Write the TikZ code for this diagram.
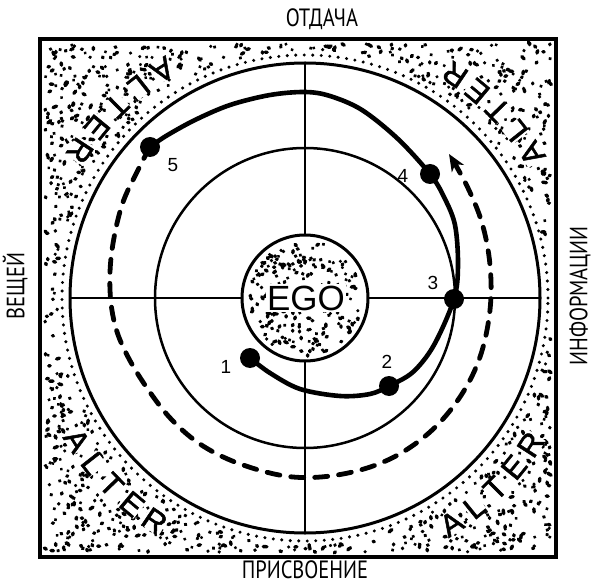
\documentclass[tikz,border=0pt]{standalone}
\usepackage{fontspec}
\setmainfont{Liberation Sans}
\newfontfamily\labfont[FakeStretch=0.82]{PT Sans}
\newfontfamily\alterfont[FakeBold=1.6]{Liberation Sans}
\usetikzlibrary{arrows.meta}
\tikzset{
  stip/.style={line width=3.4pt, line cap=round},
  ring/.style={line width=3pt},
  axis/.style={line width=1.9pt},
  pathsolid/.style={line width=4.6pt, line cap=round, line join=round},
  pathdash/.style={line width=4.8pt, line cap=round, dash pattern=on 13pt off 11pt},
  bigdot/.style={circle, fill=black, minimum size=20pt, inner sep=0pt},
  numlbl/.style={font=\fontsize{19}{19}\selectfont},
  alterletter/.style={font=\alterfont\fontsize{31}{31}\selectfont, fill=white, inner sep=0pt},
  outlbl/.style={font=\labfont\fontsize{25}{25}\selectfont, inner sep=0pt}
}
\begin{document}
\begin{tikzpicture}[x=1pt,y=-1pt]
\useasboundingbox (0,0) rectangle (594,585);
\coordinate (c) at (305,298);
% frame
\fill[white] (40,39) rectangle (556,557);
% stipple band
\pgfmathsetseed{7}
\foreach \i in {1,...,4200}{
  \pgfmathsetmacro\rx{45+506*rnd}
  \pgfmathsetmacro\ry{44+508*rnd}
  \pgfmathsetmacro\dd{100*veclen((\rx-305)/100,(\ry-298)/100)}
  \pgfmathsetmacro\ang{360*rnd}
  \pgfmathsetmacro\len{4.5*rnd*rnd}
  \ifdim\dd pt>248pt
    \draw[stip] (\rx,\ry) -- ++(\ang:\len);
  \fi
}
\draw[line width=3.2pt] (40,39) rectangle (556,557);
% dotted ring just outside the outer circle
\draw[line width=3.4pt, line cap=round, dash pattern=on 0pt off 8.5pt] (c) circle[radius=243pt];
% axes
\draw[axis] (305,63) -- (305,533);
\draw[axis] (70,298) -- (540,298);
% circles
\draw[ring] (c) circle[radius=235pt];
\draw[line width=2.5pt] (c) circle[radius=150pt];
\fill[white] (c) circle[radius=63pt];
\pgfmathsetseed{11}
\foreach \i in {1,...,330}{
  \pgfmathsetmacro\rx{245+120*rnd}
  \pgfmathsetmacro\ry{238+120*rnd}
  \pgfmathsetmacro\dd{veclen(\rx-305,\ry-298)}
  \pgfmathsetmacro\ang{360*rnd}
  \pgfmathsetmacro\len{4*rnd*rnd}
  \ifdim\dd pt<57pt
    \draw[stip] (\rx,\ry) -- ++(\ang:\len);
  \fi
}
\draw[ring] (c) circle[radius=63pt];
\node[font=\fontsize{35}{35}\selectfont, fill=white, inner sep=1.5pt] (ego) at (306,298) {EGO};
% points
\node[bigdot] (p1) at (250,358) {};
\node[bigdot] (p2) at (389,386) {};
\node[bigdot] (p3) at (454,299) {};
\node[bigdot] (p4) at (430,174) {};
\node[bigdot] (p5) at (150,147) {};
\coordinate (arr) at (449,154);
% dashed path
\draw[pathdash, -{Stealth[length=17pt,width=14pt,inset=5pt]}] plot[smooth, tension=0.6] coordinates {
 (p5.center) (138,170) (122,205) (112,250) (110,290) (115,325) (127,355) (147,388)
 (172,420) (203,446) (243,465) (293,477) (343,474) (390,459) (430,432) (460,397)
 (480,357) (490,310) (490,265) (482,223) (467,186) (arr)};
% solid path
\draw[pathsolid] plot[smooth, tension=0.55] coordinates {
 (p1.center) (270,373) (300,389) (340,396) (370,394) (p2.center) (413,372) (434,345)
 (p3.center) (458,265) (455,225) (444,197) (p4.center) (398,139) (362,110) (330,96)
 (305,92) (270,95) (230,105) (195,120) (166,136) (p5.center)};
% numbers
\node[numlbl] (n1) at (226,367) {1};
\node[numlbl] (n2) at (387,362) {2};
\node[numlbl] (n3) at (433,283) {3};
\node[numlbl] (n4) at (403,176) {4};
\node[numlbl] (n5) at (173,165) {5};
% ALTER letters along the arcs
\foreach \st/\stp/\k in {122/6.2/a, 32.5/5.9/b, 212/6/c, 303/6/d}{
  \foreach \ch [count=\j from 0] in {A,L,T,E,R}{
    \pgfmathsetmacro\th{\st+\j*\stp}
    \pgfmathsetmacro\px{305+269*cos(\th)}
    \pgfmathsetmacro\py{298-269*sin(\th)}
    \node[alterletter, rotate=\th+90] (alt\k\j) at (\px,\py) {\ch};
  }
}
% outer labels
\node[outlbl] (top) at (322,19) {ОТДАЧА};
\node[outlbl] (bot) at (305,570) {ПРИСВОЕНИЕ};
\node[outlbl, rotate=90] (lft) at (15,286) {ВЕЩЕЙ};
\node[outlbl, rotate=90] (rgt) at (580,296) {ИНФОРМАЦИИ};
\end{tikzpicture}
\end{document}
